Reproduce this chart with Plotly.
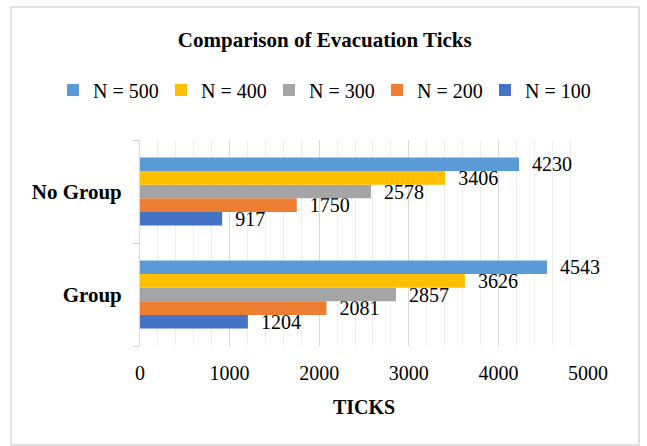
import plotly.graph_objects as go

categories = ["Group", "No Group"]
series_names = ["N = 100", "N = 200", "N = 300", "N = 400", "N = 500"]
values_n100 = [1204, 917]
values_n200 = [2081, 1750]
values_n300 = [2857, 2578]
values_n400 = [3626, 3406]
values_n500 = [4543, 4230]
colors = ["#4472C4", "#ED7D31", "#A5A5A5", "#FFC000", "#5B9BD5"]
x_ticks = [0, 1000, 2000, 3000, 4000, 5000]

FONT = "Liberation Serif, Times New Roman, serif"
all_values = [values_n100, values_n200, values_n300, values_n400, values_n500]

fig = go.Figure()
for name, vals, col in zip(series_names, all_values, colors):
    fig.add_trace(go.Bar(
        y=categories, x=vals, name=name, orientation="h",
        marker=dict(color=col, line=dict(width=0)),
        text=vals, texttemplate="\u00a0\u00a0%{x}", textposition="outside",
        textfont=dict(family=FONT, size=20, color="#000000"),
        constraintext="none", cliponaxis=False,
    ))

W, H = 647, 446
L, R, T, B = 140, 59, 140, 100
pw, ph = W - L - R, H - T - B

fig.update_layout(
    width=W, height=H,
    margin=dict(l=L, r=R, t=T, b=B, autoexpand=False),
    paper_bgcolor="white", plot_bgcolor="white",
    barmode="group", bargap=0.34, bargroupgap=0,
    font=dict(family=FONT, size=20, color="#000000"),
    title=dict(text="<b>Comparison of Evacuation Ticks</b>", x=0.502, xanchor="center",
               y=1 - 40 / H, yanchor="middle", font=dict(family=FONT, size=21, color="#000000")),
    legend=dict(orientation="h", traceorder="reversed", x=(53 - L) / pw, xanchor="left",
                y=(H - B - 90) / ph, yanchor="middle", entrywidth=63, entrywidthmode="pixels",
                font=dict(family=FONT, size=20, color="#000000"), itemclick=False,
                bgcolor="rgba(0,0,0,0)"),
    xaxis=dict(range=[0, 5000], tickvals=x_ticks, showgrid=True, gridcolor="#d9d9d9", gridwidth=1,
               minor=dict(dtick=200, showgrid=True, gridcolor="#eeeeee", gridwidth=1),
               zeroline=False, showline=False, ticks="", tickfont=dict(family=FONT, size=20),
               ticklabelstandoff=13, automargin=False,
               title=dict(text="<b>TICKS</b>", font=dict(family=FONT, size=20), standoff=16)),
    yaxis=dict(showline=True, linecolor="#d9d9d9", linewidth=1, ticks="outside", tickson="boundaries",
               ticklen=6, tickcolor="#d9d9d9", tickfont=dict(family=FONT, size=21),
               ticklabelstandoff=13, automargin=False,
               tickprefix="<b>", ticksuffix="</b>", showgrid=False),
    shapes=[dict(type="rect", xref="paper", yref="paper",
                 x0=(11 - L) / pw, x1=(639 - L) / pw,
                 y0=(H - B - 445) / ph, y1=(H - B - 7) / ph,
                 line=dict(color="#d9d9d9", width=1.5), fillcolor="rgba(0,0,0,0)", layer="below")],
)

fig.write_html("out.html", config={"displayModeBar": False},
               post_script="document.body.style.margin='0';")
